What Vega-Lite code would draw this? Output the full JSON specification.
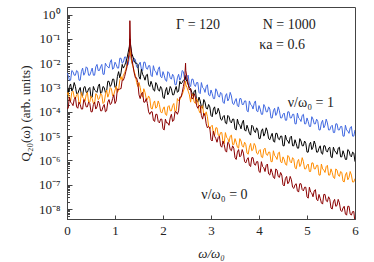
{
"$schema":"https://vega.github.io/schema/vega-lite/v6.json",
"width":288,"height":212,
"autosize":{"type":"none"},
"padding":{"left":67,"top":7,"right":19,"bottom":43},
"config":{"view":{"stroke":"#444","strokeWidth":1},"font":"Liberation Serif"},
"datasets":{
"spectra":[
{"x":0,"nu1":4e-3,"nuA":5.6e-4,"nuB":5e-4,"nu0":1.4e-4},
{"x":0.05,"nu1":2e-3,"nuA":1.1e-3,"nuB":3.2e-4,"nu0":4e-4},
{"x":0.1,"nu1":5e-3,"nuA":7.1e-4,"nuB":6.3e-4,"nu0":2.2e-4},
{"x":0.15,"nu1":3.2e-3,"nuA":1.6e-3,"nuB":4e-4,"nu0":3.2e-4},
{"x":0.2,"nu1":5e-3,"nuA":5.6e-4,"nuB":5e-4,"nu0":1.6e-4},
{"x":0.25,"nu1":2e-3,"nuA":7.9e-4,"nuB":2.2e-4,"nu0":2.5e-4},
{"x":0.3,"nu1":4.5e-3,"nuA":5e-4,"nuB":6.3e-4,"nu0":1.3e-4},
{"x":0.35,"nu1":3.2e-3,"nuA":1e-3,"nuB":3.5e-4,"nu0":3.2e-4},
{"x":0.4,"nu1":7.1e-3,"nuA":6.3e-4,"nuB":5e-4,"nu0":1.6e-4},
{"x":0.45,"nu1":3.2e-3,"nuA":8.9e-4,"nuB":2.5e-4,"nu0":2.5e-4},
{"x":0.5,"nu1":4.5e-3,"nuA":4e-4,"nuB":4.5e-4,"nu0":1e-4},
{"x":0.55,"nu1":3.2e-3,"nuA":1.1e-3,"nuB":2.2e-4,"nu0":2e-4},
{"x":0.6,"nu1":7.1e-3,"nuA":7.1e-4,"nuB":5.6e-4,"nu0":1.3e-4},
{"x":0.65,"nu1":5e-3,"nuA":1.1e-3,"nuB":3.2e-4,"nu0":2.8e-4},
{"x":0.7,"nu1":7.1e-3,"nuA":5.6e-4,"nuB":5.6e-4,"nu0":1.1e-4},
{"x":0.75,"nu1":3.5e-3,"nuA":1.1e-3,"nuB":2.2e-4,"nu0":1.6e-4},
{"x":0.8,"nu1":1e-2,"nuA":6.3e-4,"nuB":5e-4,"nu0":1e-4},
{"x":0.85,"nu1":7.1e-3,"nuA":1.8e-3,"nuB":4e-4,"nu0":2.5e-4},
{"x":0.9,"nu1":1.1e-2,"nuA":1.1e-3,"nuB":1e-3,"nu0":2e-4},
{"x":0.95,"nu1":5.6e-3,"nuA":2.2e-3,"nuB":4.5e-4,"nu0":3.5e-4},
{"x":1.0,"nu1":1.1e-2,"nuA":1e-3,"nuB":7.9e-4,"nu0":2.2e-4},
{"x":1.05,"nu1":6.3e-3,"nuA":2.8e-3,"nuB":6.3e-4,"nu0":8.9e-4},
{"x":1.1,"nu1":1.6e-2,"nuA":2.5e-3,"nuB":2e-3,"nu0":8.9e-4},
{"x":1.15,"nu1":1e-2,"nuA":8.9e-3,"nuB":2e-3,"nu0":2e-3},
{"x":1.2,"nu1":1.8e-2,"nuA":7.9e-3,"nuB":4e-3,"nu0":2.8e-3},
{"x":1.25,"nu1":7.9e-3,"nuA":1.6e-2,"nuB":8.9e-3,"nu0":7.1e-3},
{"x":1.3,"nu1":2e-2,"nuA":5e-2,"nuB":2.5e-2,"nu0":3.2e-2},
{"x":1.31,"nu1":2e-2,"nuA":0.1,"nuB":4e-2,"nu0":0.56},
{"x":1.35,"nu1":1e-2,"nuA":2.5e-2,"nuB":1.1e-2,"nu0":1.6e-2},
{"x":1.4,"nu1":1.6e-2,"nuA":1.3e-2,"nuB":4.5e-3,"nu0":4e-3},
{"x":1.45,"nu1":7.1e-3,"nuA":1e-2,"nuB":1.6e-3,"nu0":2.5e-3},
{"x":1.5,"nu1":8.9e-3,"nuA":2.8e-3,"nuB":1.6e-3,"nu0":5e-4},
{"x":1.55,"nu1":5.6e-3,"nuA":5.6e-3,"nuB":5e-4,"nu0":5.6e-4},
{"x":1.6,"nu1":1.1e-2,"nuA":2.8e-3,"nuB":8.9e-4,"nu0":2.5e-4},
{"x":1.65,"nu1":6.3e-3,"nuA":3.2e-3,"nuB":3.5e-4,"nu0":3.5e-4},
{"x":1.7,"nu1":7.9e-3,"nuA":1.3e-3,"nuB":4.5e-4,"nu0":1e-4},
{"x":1.75,"nu1":3.2e-3,"nuA":1.8e-3,"nuB":1.4e-4,"nu0":1e-4},
{"x":1.8,"nu1":7.9e-3,"nuA":7.9e-4,"nuB":2.2e-4,"nu0":4.5e-5},
{"x":1.85,"nu1":4.5e-3,"nuA":1.6e-3,"nuB":1.4e-4,"nu0":7.9e-5},
{"x":1.9,"nu1":5.6e-3,"nuA":7.9e-4,"nuB":2.8e-4,"nu0":4e-5},
{"x":1.95,"nu1":2.8e-3,"nuA":1.1e-3,"nuB":1e-4,"nu0":5e-5},
{"x":2.0,"nu1":4.5e-3,"nuA":4e-4,"nuB":1.3e-4,"nu0":2e-5},
{"x":2.05,"nu1":2e-3,"nuA":7.1e-4,"nuB":7.9e-5,"nu0":5e-5},
{"x":2.1,"nu1":4.5e-3,"nuA":5e-4,"nuB":1.6e-4,"nu0":3.5e-5},
{"x":2.15,"nu1":2.5e-3,"nuA":1.1e-3,"nuB":1.1e-4,"nu0":5.6e-5},
{"x":2.2,"nu1":3.5e-3,"nuA":5e-4,"nuB":1.8e-4,"nu0":4e-5},
{"x":2.25,"nu1":1.3e-3,"nuA":7.9e-4,"nuB":1e-4,"nu0":1e-4},
{"x":2.3,"nu1":2.5e-3,"nuA":6.3e-4,"nuB":3.5e-4,"nu0":7.9e-5},
{"x":2.35,"nu1":2e-3,"nuA":1.8e-3,"nuB":3.2e-4,"nu0":4e-4},
{"x":2.4,"nu1":5e-3,"nuA":1.6e-3,"nuB":5e-4,"nu0":6.3e-4},
{"x":2.45,"nu1":2.2e-3,"nuA":2.2e-3,"nuB":1e-3,"nu0":2e-3},
{"x":2.47,"nu1":3.2e-3,"nuA":2.8e-3,"nuB":1.8e-3,"nu0":1e-2},
{"x":2.5,"nu1":2.8e-3,"nuA":1.8e-3,"nuB":1e-3,"nu0":2.5e-3},
{"x":2.55,"nu1":1.3e-3,"nuA":1e-3,"nuB":5e-4,"nu0":7.9e-4},
{"x":2.6,"nu1":2.2e-3,"nuA":6.3e-4,"nuB":5.6e-4,"nu0":3.5e-4},
{"x":2.65,"nu1":1.3e-3,"nuA":7.1e-4,"nuB":2.5e-4,"nu0":5.6e-4},
{"x":2.7,"nu1":1.6e-3,"nuA":2.8e-4,"nuB":3.5e-4,"nu0":1.8e-4},
{"x":2.75,"nu1":6.3e-4,"nuA":4e-4,"nuB":1.1e-4,"nu0":1.8e-4},
{"x":2.8,"nu1":1.6e-3,"nuA":1.6e-4,"nuB":1.6e-4,"nu0":7.1e-5},
{"x":2.85,"nu1":8.9e-4,"nuA":3.2e-4,"nuB":7.1e-5,"nu0":8.9e-5},
{"x":2.9,"nu1":1.1e-3,"nuA":1.4e-4,"nuB":1e-4,"nu0":3.2e-5},
{"x":2.95,"nu1":5e-4,"nuA":2e-4,"nuB":2.5e-5,"nu0":2.5e-5},
{"x":3.0,"nu1":7.9e-4,"nuA":7.1e-5,"nuB":2.5e-5,"nu0":7.1e-6},
{"x":3.05,"nu1":3.5e-4,"nuA":1.3e-4,"nuB":1.3e-5,"nu0":1.6e-5},
{"x":3.1,"nu1":8.9e-4,"nuA":7.9e-5,"nuB":2.2e-5,"nu0":7.9e-6},
{"x":3.15,"nu1":4.5e-4,"nuA":1.4e-4,"nuB":1.1e-5,"nu0":8.9e-6},
{"x":3.2,"nu1":6.3e-4,"nuA":5e-5,"nuB":1.4e-5,"nu0":4e-6},
{"x":3.25,"nu1":2.5e-4,"nuA":6.3e-5,"nuB":5.6e-6,"nu0":6.3e-6},
{"x":3.3,"nu1":4.5e-4,"nuA":3.5e-5,"nuB":1.4e-5,"nu0":2.5e-6},
{"x":3.35,"nu1":2.8e-4,"nuA":7.1e-5,"nuB":7.9e-6,"nu0":5.6e-6},
{"x":3.4,"nu1":6.3e-4,"nuA":4e-5,"nuB":1e-5,"nu0":2.8e-6},
{"x":3.45,"nu1":2.2e-4,"nuA":5e-5,"nuB":4.5e-6,"nu0":4e-6},
{"x":3.5,"nu1":2.8e-4,"nuA":2e-5,"nuB":7.9e-6,"nu0":1.3e-6},
{"x":3.55,"nu1":1.8e-4,"nuA":5e-5,"nuB":3.5e-6,"nu0":2.2e-6},
{"x":3.6,"nu1":3.5e-4,"nuA":2.8e-5,"nuB":7.9e-6,"nu0":1.4e-6},
{"x":3.65,"nu1":2e-4,"nuA":3.5e-5,"nuB":4e-6,"nu0":2.8e-6},
{"x":3.7,"nu1":2.8e-4,"nuA":1.8e-5,"nuB":5.6e-6,"nu0":8.9e-7},
{"x":3.75,"nu1":1.1e-4,"nuA":2.8e-5,"nuB":2e-6,"nu0":1.1e-6},
{"x":3.8,"nu1":2.8e-4,"nuA":1.3e-5,"nuB":3.5e-6,"nu0":6.3e-7},
{"x":3.85,"nu1":1.8e-4,"nuA":2.8e-5,"nuB":2.5e-6,"nu0":1.3e-6},
{"x":3.9,"nu1":2.2e-4,"nuA":1.6e-5,"nuB":5e-6,"nu0":7.1e-7},
{"x":3.95,"nu1":1.1e-4,"nuA":2.2e-5,"nuB":2e-6,"nu0":8.9e-7},
{"x":4.0,"nu1":1.8e-4,"nuA":7.9e-6,"nuB":2.5e-6,"nu0":3.5e-7},
{"x":4.05,"nu1":7.9e-5,"nuA":1.6e-5,"nuB":1.4e-6,"nu0":8.9e-7},
{"x":4.1,"nu1":2e-4,"nuA":1e-5,"nuB":2.8e-6,"nu0":5e-7},
{"x":4.15,"nu1":1e-4,"nuA":2.2e-5,"nuB":1.8e-6,"nu0":6.3e-7},
{"x":4.2,"nu1":1.6e-4,"nuA":7.9e-6,"nuB":2.2e-6,"nu0":2.8e-7},
{"x":4.25,"nu1":5.6e-5,"nuA":1e-5,"nuB":8.9e-7,"nu0":4.5e-7},
{"x":4.3,"nu1":1.1e-4,"nuA":6.3e-6,"nuB":2.5e-6,"nu0":2e-7},
{"x":4.35,"nu1":7.1e-5,"nuA":1.3e-5,"nuB":1.4e-6,"nu0":4.5e-7},
{"x":4.4,"nu1":1.6e-4,"nuA":7.9e-6,"nuB":2e-6,"nu0":2.2e-7},
{"x":4.45,"nu1":5.6e-5,"nuA":1e-5,"nuB":8.9e-7,"nu0":3.2e-7},
{"x":4.5,"nu1":7.9e-5,"nuA":4e-6,"nuB":1.4e-6,"nu0":1e-7},
{"x":4.55,"nu1":4.5e-5,"nuA":1.1e-5,"nuB":7.1e-7,"nu0":1.8e-7},
{"x":4.6,"nu1":1e-4,"nuA":6.3e-6,"nuB":1.6e-6,"nu0":1.1e-7},
{"x":4.65,"nu1":5.6e-5,"nuA":8.9e-6,"nuB":8.9e-7,"nu0":2.2e-7},
{"x":4.7,"nu1":7.9e-5,"nuA":4e-6,"nuB":1.3e-6,"nu0":7.9e-8},
{"x":4.75,"nu1":3.2e-5,"nuA":7.1e-6,"nuB":5e-7,"nu0":1e-7},
{"x":4.8,"nu1":8.9e-5,"nuA":3.2e-6,"nuB":8.9e-7,"nu0":5.6e-8},
{"x":4.85,"nu1":5e-5,"nuA":7.9e-6,"nuB":5.6e-7,"nu0":1.1e-7},
{"x":4.9,"nu1":7.1e-5,"nuA":4e-6,"nuB":1.3e-6,"nu0":6.3e-8},
{"x":4.95,"nu1":3.2e-5,"nuA":6.3e-6,"nuB":4.5e-7,"nu0":7.9e-8},
{"x":5.0,"nu1":5.6e-5,"nuA":2.2e-6,"nuB":6.3e-7,"nu0":3.2e-8},
{"x":5.05,"nu1":2.5e-5,"nuA":4.5e-6,"nuB":3.5e-7,"nu0":7.9e-8},
{"x":5.1,"nu1":6.3e-5,"nuA":2.8e-6,"nuB":7.9e-7,"nu0":4.5e-8},
{"x":5.15,"nu1":3.2e-5,"nuA":6.3e-6,"nuB":4.5e-7,"nu0":5.6e-8},
{"x":5.2,"nu1":5e-5,"nuA":2.2e-6,"nuB":6.3e-7,"nu0":2.5e-8},
{"x":5.25,"nu1":1.8e-5,"nuA":3.2e-6,"nuB":2.5e-7,"nu0":4e-8},
{"x":5.3,"nu1":3.5e-5,"nuA":2e-6,"nuB":7.1e-7,"nu0":1.8e-8},
{"x":5.35,"nu1":2.2e-5,"nuA":4e-6,"nuB":4e-7,"nu0":4e-8},
{"x":5.4,"nu1":5e-5,"nuA":2.5e-6,"nuB":5.6e-7,"nu0":2.2e-8},
{"x":5.45,"nu1":1.8e-5,"nuA":3.2e-6,"nuB":2.5e-7,"nu0":3.2e-8},
{"x":5.5,"nu1":2.5e-5,"nuA":1.4e-6,"nuB":4.5e-7,"nu0":1.1e-8},
{"x":5.55,"nu1":1.4e-5,"nuA":3.5e-6,"nuB":2e-7,"nu0":2e-8},
{"x":5.6,"nu1":3.2e-5,"nuA":2.2e-6,"nuB":4.5e-7,"nu0":1.3e-8},
{"x":5.65,"nu1":1.8e-5,"nuA":3.2e-6,"nuB":2.5e-7,"nu0":2.5e-8},
{"x":5.7,"nu1":2.5e-5,"nuA":1.4e-6,"nuB":3.5e-7,"nu0":8.9e-9},
{"x":5.75,"nu1":1e-5,"nuA":2.5e-6,"nuB":1.4e-7,"nu0":1.1e-8},
{"x":5.8,"nu1":2.8e-5,"nuA":1.1e-6,"nuB":2.5e-7,"nu0":6.3e-9},
{"x":5.85,"nu1":1.6e-5,"nuA":2.8e-6,"nuB":1.6e-7,"nu0":1.3e-8},
{"x":5.9,"nu1":2.2e-5,"nuA":1.6e-6,"nuB":3.5e-7,"nu0":6.3e-9},
{"x":5.95,"nu1":1e-5,"nuA":2.2e-6,"nuB":1.3e-7,"nu0":7.9e-9},
{"x":6.0,"nu1":1.8e-5,"nuA":8.9e-7,"nuB":1.8e-7,"nu0":2.8e-9},
{"x":0.025,"nu1":3.2e-3,"nuA":5.6e-4,"nuB":6.3e-4,"nu0":1.4e-4},
{"x":0.075,"nu1":2e-3,"nuA":1.4e-3,"nuB":2.8e-4,"nu0":2.5e-4},
{"x":0.125,"nu1":4.5e-3,"nuA":8.9e-4,"nuB":7.1e-4,"nu0":1.8e-4},
{"x":0.175,"nu1":3.2e-3,"nuA":1.1e-3,"nuB":3.5e-4,"nu0":4e-4},
{"x":0.225,"nu1":4.5e-3,"nuA":5.6e-4,"nuB":5.6e-4,"nu0":1.4e-4},
{"x":0.275,"nu1":2e-3,"nuA":1e-3,"nuB":2.2e-4,"nu0":2e-4},
{"x":0.325,"nu1":6.3e-3,"nuA":4.5e-4,"nuB":4e-4,"nu0":1.3e-4},
{"x":0.375,"nu1":4e-3,"nuA":1.1e-3,"nuB":2.8e-4,"nu0":2.5e-4},
{"x":0.425,"nu1":6.3e-3,"nuA":6.3e-4,"nuB":6.3e-4,"nu0":1.6e-4},
{"x":0.475,"nu1":3.2e-3,"nuA":1e-3,"nuB":2.5e-4,"nu0":2.2e-4},
{"x":0.525,"nu1":6.3e-3,"nuA":4e-4,"nuB":3.5e-4,"nu0":1e-4},
{"x":0.575,"nu1":3.2e-3,"nuA":7.9e-4,"nuB":2.2e-4,"nu0":2.5e-4},
{"x":0.625,"nu1":8.9e-3,"nuA":6.3e-4,"nuB":5e-4,"nu0":1.6e-4},
{"x":0.675,"nu1":5e-3,"nuA":1.4e-3,"nuB":3.5e-4,"nu0":2.2e-4},
{"x":0.725,"nu1":8.9e-3,"nuA":6.3e-4,"nuB":5e-4,"nu0":1.1e-4},
{"x":0.775,"nu1":3.5e-3,"nuA":1e-3,"nuB":2.5e-4,"nu0":2e-4},
{"x":0.825,"nu1":7.9e-3,"nuA":7.1e-4,"nuB":7.9e-4,"nu0":1.1e-4},
{"x":0.875,"nu1":6.3e-3,"nuA":1.8e-3,"nuB":5.6e-4,"nu0":3.2e-4},
{"x":0.925,"nu1":1.4e-2,"nuA":1.3e-3,"nuB":8.9e-4,"nu0":2.2e-4},
{"x":0.975,"nu1":6.3e-3,"nuA":2.2e-3,"nuB":5e-4,"nu0":5e-4},
{"x":1.025,"nu1":8.9e-3,"nuA":1.1e-3,"nuB":1.1e-3,"nu0":2.8e-4},
{"x":1.075,"nu1":6.3e-3,"nuA":4.5e-3,"nuB":7.9e-4,"nu0":7.9e-4},
{"x":1.125,"nu1":1.6e-2,"nuA":4e-3,"nuB":2.8e-3,"nu0":8.9e-4},
{"x":1.175,"nu1":1.1e-2,"nuA":6.3e-3,"nuB":3.2e-3,"nu0":2e-3},
{"x":1.225,"nu1":1.8e-2,"nuA":1.1e-2,"nuB":5.6e-3,"nu0":4.5e-3},
{"x":1.275,"nu1":8.9e-3,"nuA":2.8e-2,"nuB":1.4e-2,"nu0":1.4e-2},
{"x":1.325,"nu1":2.5e-2,"nuA":5.6e-2,"nuB":2.2e-2,"nu0":5e-2},
{"x":1.375,"nu1":1.1e-2,"nuA":1.8e-2,"nuB":7.1e-3,"nu0":7.9e-3},
{"x":1.425,"nu1":1.4e-2,"nuA":1e-2,"nuB":3.2e-3,"nu0":2.5e-3},
{"x":1.475,"nu1":6.3e-3,"nuA":8.9e-3,"nuB":1.1e-3,"nu0":1.6e-3},
{"x":1.525,"nu1":1.1e-2,"nuA":2.2e-3,"nuB":1e-3,"nu0":3.5e-4},
{"x":1.575,"nu1":5e-3,"nuA":3.5e-3,"nuB":4e-4,"nu0":6.3e-4},
{"x":1.625,"nu1":1.1e-2,"nuA":2e-3,"nuB":6.3e-4,"nu0":2.5e-4},
{"x":1.675,"nu1":5.6e-3,"nuA":3.5e-3,"nuB":3.2e-4,"nu0":2.2e-4},
{"x":1.725,"nu1":7.9e-3,"nuA":1.1e-3,"nuB":3.5e-4,"nu0":7.9e-5},
{"x":1.775,"nu1":2.8e-3,"nuA":1.3e-3,"nuB":1.3e-4,"nu0":1e-4},
{"x":1.825,"nu1":5e-3,"nuA":7.1e-4,"nuB":2.8e-4,"nu0":4e-5},
{"x":1.875,"nu1":3.2e-3,"nuA":1.3e-3,"nuB":1.6e-4,"nu0":7.9e-5},
{"x":1.925,"nu1":7.1e-3,"nuA":7.1e-4,"nuB":2e-4,"nu0":3.5e-5},
{"x":1.975,"nu1":2.5e-3,"nuA":8.9e-4,"nuB":8.9e-5,"nu0":5e-5},
{"x":2.025,"nu1":3.2e-3,"nuA":3.5e-4,"nuB":1.6e-4,"nu0":1.8e-5},
{"x":2.075,"nu1":1.8e-3,"nuA":1e-3,"nuB":7.1e-5,"nu0":3.5e-5},
{"x":2.125,"nu1":4e-3,"nuA":6.3e-4,"nuB":1.8e-4,"nu0":2.8e-5},
{"x":2.175,"nu1":2.2e-3,"nuA":8.9e-4,"nuB":1.1e-4,"nu0":7.9e-5},
{"x":2.225,"nu1":2.8e-3,"nuA":5e-4,"nuB":2.2e-4,"nu0":4.5e-5},
{"x":2.275,"nu1":1.3e-3,"nuA":1.1e-3,"nuB":1.1e-4,"nu0":1e-4},
{"x":2.325,"nu1":3.5e-3,"nuA":7.1e-4,"nuB":2.8e-4,"nu0":1.1e-4},
{"x":2.375,"nu1":2.5e-3,"nuA":1.4e-3,"nuB":4e-4,"nu0":4e-4},
{"x":2.425,"nu1":4.5e-3,"nuA":2e-3,"nuB":7.1e-4,"nu0":1.1e-3},
{"x":2.475,"nu1":2e-3,"nuA":2.2e-3,"nuB":1.3e-3,"nu0":5e-3},
{"x":2.525,"nu1":3.2e-3,"nuA":1.3e-3,"nuB":7.1e-4,"nu0":1.4e-3},
{"x":2.575,"nu1":1.1e-3,"nuA":8.9e-4,"nuB":2.5e-4,"nu0":8.9e-4},
{"x":2.625,"nu1":2.2e-3,"nuA":4.5e-4,"nuB":4.5e-4,"nu0":3.5e-4},
{"x":2.675,"nu1":1.1e-3,"nuA":7.9e-4,"nuB":2.2e-4,"nu0":4e-4},
{"x":2.725,"nu1":1.6e-3,"nuA":2.5e-4,"nuB":2.8e-4,"nu0":1.4e-4},
{"x":2.775,"nu1":5.6e-4,"nuA":2.8e-4,"nuB":8.9e-5,"nu0":1.8e-4},
{"x":2.825,"nu1":1e-3,"nuA":1.4e-4,"nuB":1.8e-4,"nu0":5e-5},
{"x":2.875,"nu1":6.3e-4,"nuA":2.5e-4,"nuB":7.1e-5,"nu0":7.1e-5},
{"x":2.925,"nu1":1.3e-3,"nuA":1.3e-4,"nuB":6.3e-5,"nu0":2.2e-5},
{"x":2.975,"nu1":4.5e-4,"nuA":1.6e-4,"nuB":2e-5,"nu0":2.2e-5},
{"x":3.025,"nu1":5.6e-4,"nuA":6.3e-5,"nuB":2.8e-5,"nu0":6.3e-6},
{"x":3.075,"nu1":3.5e-4,"nuA":1.6e-4,"nuB":1.1e-5,"nu0":1e-5},
{"x":3.125,"nu1":7.1e-4,"nuA":8.9e-5,"nuB":2.2e-5,"nu0":5.6e-6},
{"x":3.175,"nu1":4e-4,"nuA":1e-4,"nuB":1e-5,"nu0":1e-5},
{"x":3.225,"nu1":5.6e-4,"nuA":4.5e-5,"nuB":1.4e-5,"nu0":3.5e-6},
{"x":3.275,"nu1":2.2e-4,"nuA":7.1e-5,"nuB":5e-6,"nu0":4.5e-6},
{"x":3.325,"nu1":5.6e-4,"nuA":3.2e-5,"nuB":8.9e-6,"nu0":2.2e-6},
{"x":3.375,"nu1":3.5e-4,"nuA":6.3e-5,"nuB":5.6e-6,"nu0":5e-6},
{"x":3.425,"nu1":4.5e-4,"nuA":3.5e-5,"nuB":1.1e-5,"nu0":2.5e-6},
{"x":3.475,"nu1":2e-4,"nuA":5e-5,"nuB":4.5e-6,"nu0":3.2e-6},
{"x":3.525,"nu1":3.5e-4,"nuA":1.8e-5,"nuB":5.6e-6,"nu0":1.1e-6},
{"x":3.575,"nu1":1.6e-4,"nuA":3.2e-5,"nuB":3.2e-6,"nu0":2.8e-6},
{"x":3.625,"nu1":3.5e-4,"nuA":2e-5,"nuB":6.3e-6,"nu0":1.6e-6},
{"x":3.675,"nu1":2e-4,"nuA":4.5e-5,"nuB":3.5e-6,"nu0":2e-6},
{"x":3.725,"nu1":2.8e-4,"nuA":1.6e-5,"nuB":4.5e-6,"nu0":7.9e-7},
{"x":3.775,"nu1":1e-4,"nuA":2e-5,"nuB":1.8e-6,"nu0":1.3e-6},
{"x":3.825,"nu1":2e-4,"nuA":1.1e-5,"nuB":5e-6,"nu0":5.6e-7},
{"x":3.875,"nu1":1.3e-4,"nuA":2.5e-5,"nuB":2.8e-6,"nu0":1.3e-6},
{"x":3.925,"nu1":2.8e-4,"nuA":1.4e-5,"nuB":4e-6,"nu0":6.3e-7},
{"x":3.975,"nu1":1e-4,"nuA":1.8e-5,"nuB":1.8e-6,"nu0":8.9e-7},
{"x":4.025,"nu1":1.3e-4,"nuA":7.9e-6,"nuB":2.8e-6,"nu0":3.2e-7},
{"x":4.075,"nu1":7.9e-5,"nuA":2e-5,"nuB":1.3e-6,"nu0":5.6e-7},
{"x":4.125,"nu1":1.6e-4,"nuA":1.3e-5,"nuB":3.2e-6,"nu0":3.5e-7},
{"x":4.175,"nu1":1e-4,"nuA":1.6e-5,"nuB":1.6e-6,"nu0":7.1e-7},
{"x":4.225,"nu1":1.3e-4,"nuA":7.1e-6,"nuB":2.2e-6,"nu0":2.5e-7},
{"x":4.275,"nu1":5.6e-5,"nuA":1.3e-5,"nuB":8.9e-7,"nu0":3.2e-7},
{"x":4.325,"nu1":1.4e-4,"nuA":5.6e-6,"nuB":1.6e-6,"nu0":1.8e-7},
{"x":4.375,"nu1":8.9e-5,"nuA":1.3e-5,"nuB":1.1e-6,"nu0":4e-7},
{"x":4.425,"nu1":1.1e-4,"nuA":7.1e-6,"nuB":2.2e-6,"nu0":2e-7},
{"x":4.475,"nu1":5.6e-5,"nuA":1e-5,"nuB":7.9e-7,"nu0":2.5e-7},
{"x":4.525,"nu1":8.9e-5,"nuA":4e-6,"nuB":1.1e-6,"nu0":8.9e-8},
{"x":4.575,"nu1":4.5e-5,"nuA":7.1e-6,"nuB":6.3e-7,"nu0":2.2e-7},
{"x":4.625,"nu1":1e-4,"nuA":5e-6,"nuB":1.4e-6,"nu0":1.3e-7},
{"x":4.675,"nu1":5.6e-5,"nuA":1e-5,"nuB":7.9e-7,"nu0":1.6e-7},
{"x":4.725,"nu1":7.9e-5,"nuA":4e-6,"nuB":1.1e-6,"nu0":7.1e-8},
{"x":4.775,"nu1":3.2e-5,"nuA":5e-6,"nuB":4.5e-7,"nu0":1.1e-7},
{"x":4.825,"nu1":5.6e-5,"nuA":3.2e-6,"nuB":1.1e-6,"nu0":5e-8},
{"x":4.875,"nu1":4e-5,"nuA":6.3e-6,"nuB":7.1e-7,"nu0":1.1e-7},
{"x":4.925,"nu1":7.9e-5,"nuA":4e-6,"nuB":8.9e-7,"nu0":5.6e-8},
{"x":4.975,"nu1":3.2e-5,"nuA":5e-6,"nuB":4.5e-7,"nu0":7.9e-8},
{"x":5.025,"nu1":4e-5,"nuA":2.2e-6,"nuB":7.1e-7,"nu0":2.8e-8},
{"x":5.075,"nu1":2.5e-5,"nuA":5.6e-6,"nuB":3.5e-7,"nu0":5e-8},
{"x":5.125,"nu1":5e-5,"nuA":3.5e-6,"nuB":7.9e-7,"nu0":3.2e-8},
{"x":5.175,"nu1":3.2e-5,"nuA":4.5e-6,"nuB":4.5e-7,"nu0":6.3e-8},
{"x":5.225,"nu1":4e-5,"nuA":2.2e-6,"nuB":6.3e-7,"nu0":2.2e-8},
{"x":5.275,"nu1":1.8e-5,"nuA":4e-6,"nuB":2.5e-7,"nu0":2.8e-8},
{"x":5.325,"nu1":4.5e-5,"nuA":1.8e-6,"nuB":4.5e-7,"nu0":1.6e-8},
{"x":5.375,"nu1":2.8e-5,"nuA":4e-6,"nuB":3.2e-7,"nu0":4e-8},
{"x":5.425,"nu1":3.5e-5,"nuA":2.2e-6,"nuB":6.3e-7,"nu0":2e-8},
{"x":5.475,"nu1":1.8e-5,"nuA":3.5e-6,"nuB":2.5e-7,"nu0":2.5e-8},
{"x":5.525,"nu1":2.8e-5,"nuA":1.3e-6,"nuB":3.2e-7,"nu0":1e-8},
{"x":5.575,"nu1":1.4e-5,"nuA":2.5e-6,"nuB":1.8e-7,"nu0":2.5e-8},
{"x":5.625,"nu1":3.2e-5,"nuA":1.8e-6,"nuB":4e-7,"nu0":1.4e-8},
{"x":5.675,"nu1":1.8e-5,"nuA":3.5e-6,"nuB":2.2e-7,"nu0":1.8e-8},
{"x":5.725,"nu1":2.5e-5,"nuA":1.4e-6,"nuB":3.2e-7,"nu0":7.9e-9},
{"x":5.775,"nu1":1e-5,"nuA":1.8e-6,"nuB":1.3e-7,"nu0":1.3e-8},
{"x":5.825,"nu1":1.8e-5,"nuA":1.1e-6,"nuB":3.2e-7,"nu0":5.6e-9},
{"x":5.875,"nu1":1.3e-5,"nuA":2.5e-6,"nuB":2e-7,"nu0":1.3e-8},
{"x":5.925,"nu1":2.5e-5,"nuA":1.4e-6,"nuB":2.5e-7,"nu0":5.6e-9},
{"x":5.975,"nu1":1e-5,"nuA":2e-6,"nuB":1.3e-7,"nu0":7.9e-9}
],
"notes":[
{"x":2.73,"y":0.39,"label":"Γ = 120"},
{"x":4.63,"y":0.39,"label":"N = 1000"},
{"x":4.48,"y":0.058,"label":"κa = 0.6"},
{"x":5.08,"y":2.2e-4,"label":"ν/ω₀ = 1"},
{"x":3.28,"y":3.9e-8,"label":"ν/ω₀ = 0"}
]
},
"layer":[
{"data":{"name":"spectra"},
 "mark":{"type":"line","color":"#4169e1","strokeWidth":1,"clip":true},
 "encoding":{
  "x":{"field":"x","type":"quantitative","scale":{"domain":[0,6],"nice":false},
   "axis":{"title":"ω/ω₀","titleFont":"Liberation Serif","titleFontStyle":"italic","titleFontWeight":"normal","titleFontSize":13,"titleColor":"#222","titlePadding":10,
    "values":[0,0.5,1,1.5,2,2.5,3,3.5,4,4.5,5,5.5,6],
    "labelExpr":"datum.value % 1 === 0 ? datum.label : ''",
    "labelFont":"Liberation Serif","labelFontSize":13,"labelColor":"#222","labelPadding":9,
    "tickSize":-4,"tickColor":"#444","domainColor":"#444","grid":false,"labelFlush":false}},
  "y":{"field":"nu1","type":"quantitative","scale":{"type":"log","domain":[3.9e-9,2.05],"nice":false},
   "axis":{"title":"Q₂₀(ω) (arb. units)","titleFont":"Liberation Serif","titleFontWeight":"normal","titleFontSize":13,"titleColor":"#222","titlePadding":6,
    "values":[1,0.9,0.8,0.7,0.6,0.5,0.4,0.3,0.2,0.1,0.09,0.08,0.07,0.06,0.05,0.04,0.03,0.02,0.01,9e-3,8e-3,7e-3,6e-3,5e-3,4e-3,3e-3,2e-3,1e-3,9e-4,8e-4,7e-4,6e-4,5e-4,4e-4,3e-4,2e-4,1e-4,9e-5,8e-5,7e-5,6e-5,5e-5,4e-5,3e-5,2e-5,1e-5,9e-6,8e-6,7e-6,6e-6,5e-6,4e-6,3e-6,2e-6,1e-6,9e-7,8e-7,7e-7,6e-7,5e-7,4e-7,3e-7,2e-7,1e-7,9e-8,8e-8,7e-8,6e-8,5e-8,4e-8,3e-8,2e-8,1e-8,9e-9,8e-9,7e-9,6e-9,5e-9,4e-9],
    "labelExpr":"abs(log(datum.value)/LN10 - round(log(datum.value)/LN10)) < 0.01 ? '10' + ['⁰','⁻¹','⁻²','⁻³','⁻⁴','⁻⁵','⁻⁶','⁻⁷','⁻⁸','⁻⁹'][round(-log(datum.value)/LN10)] : ''",
    "labelFont":"Liberation Serif","labelFontSize":13,"labelColor":"#222","labelPadding":12,
    "tickSize":{"condition":{"test":"abs(log(datum.value)/LN10 - round(log(datum.value)/LN10)) < 0.01","value":-5},"value":-2.5},
    "tickColor":"#444","domainColor":"#444","grid":false,"labelFlush":false,"labelOverlap":false}}
 }},
{"data":{"name":"spectra"},
 "mark":{"type":"line","color":"#000000","strokeWidth":1,"clip":true},
 "encoding":{"x":{"field":"x","type":"quantitative"},"y":{"field":"nuA","type":"quantitative"}}},
{"data":{"name":"spectra"},
 "mark":{"type":"line","color":"#ff8c00","strokeWidth":1,"clip":true},
 "encoding":{"x":{"field":"x","type":"quantitative"},"y":{"field":"nuB","type":"quantitative"}}},
{"data":{"name":"spectra"},
 "mark":{"type":"line","color":"#8b0000","strokeWidth":1,"clip":true},
 "encoding":{"x":{"field":"x","type":"quantitative"},"y":{"field":"nu0","type":"quantitative"}}},
{"data":{"name":"notes"},
 "mark":{"type":"text","font":"Liberation Serif","fontSize":14,"color":"#222","align":"center","baseline":"middle"},
 "encoding":{"x":{"field":"x","type":"quantitative"},"y":{"field":"y","type":"quantitative"},"text":{"field":"label"}}}
]
}
